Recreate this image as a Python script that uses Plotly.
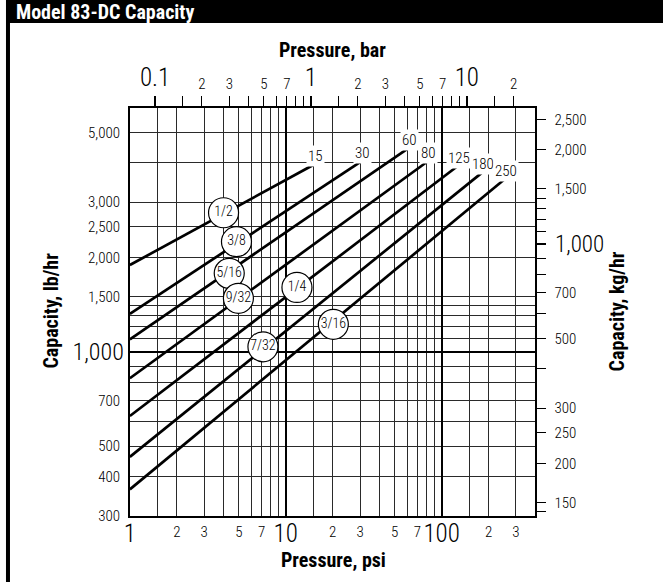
import math
import plotly.graph_objects as go

# ---------------- data ----------------
orifice_sizes = ["1/2", "3/8", "5/16", "9/32", "1/4", "7/32", "3/16"]
start_pressure_psi = [1, 1, 1, 1, 1, 1, 1]
max_pressure_psi = [15, 30, 60, 80, 125, 180, 250]
capacity_at_start_lbhr = [1890, 1320, 1095, 823, 624, 462, 364]
capacity_at_max_lbhr = [3940, 4020, 4430, 4020, 3890, 3710, 3530]
size_marker_psi = [3.99, 4.83, 4.34, 4.97, 11.8, 7.14, 20.2]
size_marker_lbhr = [2774, 2243, 1778, 1480, 1603, 1037, 1223]

psi_grid = [1.5, 2, 3, 4, 5, 6, 7, 8, 9, 15, 20, 30, 40, 50, 60, 70, 80, 90, 150, 200, 300]
psi_labels = ["", "2", "3", "", "5", "", "7", "", "", "", "2", "3", "", "5", "", "7", "", "", "", "2", "3"]
psi_major = [1, 10, 100]
psi_major_labels = ["1", "10", "100"]

bar_ticks = [0.15, 0.2, 0.3, 0.4, 0.5, 0.6, 0.7, 0.8, 0.9, 1.5, 2, 3, 4, 5, 6, 7, 8, 9, 15, 20]
bar_labels = ["", "2", "3", "", "5", "", "7", "", "", "", "2", "3", "", "5", "", "7", "", "", "", "2"]
bar_major = [0.1, 1, 10]
bar_major_labels = ["0.1", "1", "10"]

lb_grid = [300, 400, 500, 600, 700, 800, 900, 1100, 1200, 1300, 1400, 1500, 2000, 2500, 3000, 4000, 5000]
lb_labels = ["300", "400", "500", "", "700", "", "", "", "", "", "", "1,500", "2,000", "2,500", "3,000", "", "5,000"]
lb_major = [1000]
lb_major_labels = ["1,000"]

kg_ticks = [140, 150, 200, 250, 300, 400, 500, 600, 700, 800, 900, 1100, 1200, 1300, 1400, 1500, 2000, 2500]
kg_labels = ["", "150", "200", "250", "300", "", "500", "", "700", "", "", "", "", "", "", "1,500", "2,000", "2,500"]
kg_major = [1000]
kg_major_labels = ["1,000"]

PSI_RANGE = [1, 400]
LB_RANGE = [300, 6000]
PSI_PER_BAR = 14.5038
LB_PER_KG = 2.20462

# ---------------- styling ----------------
W = 663
H = 591                    # the page is photographed slightly squeezed vertically
VS = H / 582.0             # vertical factor: reference pixel rows -> figure pixel rows
NARROW = "Roboto Condensed, Liberation Sans Narrow, DejaVu Sans Condensed, Liberation Sans, sans-serif"
GRID = "#2a2a2a"
L, R, T, B = 125, 534.3, 107.7 * VS, 515.7 * VS
xdom = [L / W, R / W]
ydom = [(H - B) / H, (H - T) / H]


def font(size, color="black", weight=None):
    f = dict(family=NARROW, size=size, color=color)
    if weight is not None:
        f["weight"] = weight
    return f


lg = math.log10
psi_rng = [lg(PSI_RANGE[0]), lg(PSI_RANGE[1])]
bar_rng = [lg(PSI_RANGE[0] / PSI_PER_BAR), lg(PSI_RANGE[1] / PSI_PER_BAR)]
lb_rng = [lg(LB_RANGE[0]), lg(LB_RANGE[1])]
kg_rng = [lg(LB_RANGE[0] / LB_PER_KG), lg(LB_RANGE[1] / LB_PER_KG)]

fig = go.Figure()

for i, name in enumerate(orifice_sizes):
    fig.add_trace(go.Scatter(
        x=[start_pressure_psi[i], max_pressure_psi[i]],
        y=[capacity_at_start_lbhr[i], capacity_at_max_lbhr[i]],
        mode="lines", line=dict(color="black", width=2.7),
        name=name, hoverinfo="skip"))

fig.add_trace(go.Scatter(
    x=size_marker_psi, y=size_marker_lbhr, mode="markers+text",
    text=orifice_sizes, textposition="middle center",
    textfont=font(14, weight=300),
    marker=dict(size=30, color="white", line=dict(color="black", width=1.2)),
    hoverinfo="skip"))

# empty traces so that the secondary (bar / kg/hr) axes are drawn
for xa, ya in (("x2", "y2"), ("x3", "y3"), ("x4", "y4")):
    fig.add_trace(go.Scatter(x=[], y=[], xaxis=xa, yaxis=ya, hoverinfo="skip"))

annotations = []
for i, p in enumerate(max_pressure_psi):
    annotations.append(dict(
        x=lg(p), y=lg(capacity_at_max_lbhr[i]), xref="x", yref="y",
        text=str(p), showarrow=False, yshift=9, xshift=2,
        bgcolor="white", borderpad=1, font=font(15, weight=300)))


def title_ann(text, x, y, angle=0, color="black", size=20, xanchor="center"):
    return dict(text="<b>%s</b>" % text, x=x / W, y=(H - y * VS) / H, xref="paper", yref="paper",
                showarrow=False, textangle=angle, xanchor=xanchor, yanchor="middle",
                font=font(size, color))


annotations += [
    title_ann("Model 83-DC Capacity", 8, 12, color="white", xanchor="left"),
    title_ann("Pressure, bar", 329, 50),
    title_ann("Pressure, psi", 330, 560),
    title_ann("Capacity, lb/hr", 45, 311, angle=-90),
    title_ann("Capacity, kg/hr", 617, 311, angle=-90),
]

small_font = font(15, weight=300)
big_font = font(25, weight=300)

layout = dict(
    width=W, height=H, autosize=False,
    margin=dict(l=0, r=0, t=0, b=0),
    paper_bgcolor="white", plot_bgcolor="white",
    showlegend=False,
    xaxis=dict(type="log", range=psi_rng, domain=xdom, anchor="y",
               tickmode="array", tickvals=psi_grid, ticktext=psi_labels,
               ticks="", showgrid=True, gridcolor=GRID, gridwidth=1,
               showline=True, linecolor="black", linewidth=1.6, mirror=True,
               zeroline=False, tickfont=small_font, ticklabelstandoff=1),
    xaxis3=dict(type="log", range=psi_rng, overlaying="x", anchor="y", side="bottom",
                tickmode="array", tickvals=psi_major, ticktext=psi_major_labels,
                ticks="", showgrid=True, gridcolor="black", gridwidth=2.2,
                showline=False, zeroline=False, tickfont=big_font, ticklabelstandoff=0),
    xaxis2=dict(type="log", range=bar_rng, overlaying="x", anchor="y", side="top",
                tickmode="array", tickvals=bar_ticks, ticktext=bar_labels,
                ticks="outside", ticklen=11, tickwidth=1, tickcolor="black",
                showgrid=False, showline=False, zeroline=False,
                tickfont=small_font, ticklabelstandoff=1),
    xaxis4=dict(type="log", range=bar_rng, overlaying="x", anchor="y", side="top",
                tickmode="array", tickvals=bar_major, ticktext=bar_major_labels,
                ticks="outside", ticklen=11, tickwidth=1.6, tickcolor="black",
                showgrid=False, showline=False, zeroline=False,
                tickfont=big_font, ticklabelstandoff=0),
    yaxis=dict(type="log", range=lb_rng, domain=ydom, anchor="x",
               tickmode="array", tickvals=lb_grid, ticktext=lb_labels,
               ticks="", showgrid=True, gridcolor=GRID, gridwidth=1,
               showline=True, linecolor="black", linewidth=1.6, mirror=True,
               zeroline=False, tickfont=small_font, ticklabelstandoff=5),
    yaxis3=dict(type="log", range=lb_rng, overlaying="y", anchor="x", side="left",
                tickmode="array", tickvals=lb_major, ticktext=lb_major_labels,
                ticks="", showgrid=True, gridcolor="black", gridwidth=2.2,
                showline=False, zeroline=False,
                tickfont=font(24, weight=300), ticklabelstandoff=5),
    yaxis2=dict(type="log", range=kg_rng, overlaying="y", anchor="x", side="right",
                tickmode="array", tickvals=kg_ticks, ticktext=kg_labels,
                ticks="outside", ticklen=10, tickwidth=1, tickcolor="black",
                showgrid=False, showline=False, zeroline=False,
                tickfont=small_font, ticklabelstandoff=5),
    yaxis4=dict(type="log", range=kg_rng, overlaying="y", anchor="x", side="right",
                tickmode="array", tickvals=kg_major, ticktext=kg_major_labels,
                ticks="outside", ticklen=10, tickwidth=2, tickcolor="black",
                showgrid=False, showline=False, zeroline=False,
                tickfont=font(23, weight=300), ticklabelstandoff=4),
    annotations=annotations,
    shapes=[
        dict(type="rect", xref="paper", yref="paper", x0=0, x1=1, y0=(H - 23 * VS) / H, y1=1,
             fillcolor="black", line=dict(width=0), layer="below"),
        dict(type="line", xref="paper", yref="paper", x0=2 / W, x1=2 / W, y0=0, y1=1,
             line=dict(color="black", width=4)),
    ],
)
fig.update_layout(**layout)

page_fix = (
    "var s=document.documentElement.style;s.margin='0';s.padding='0';s.overflow='hidden';"
    "var b=document.body.style;b.margin='0';b.padding='0';b.overflow='hidden';"
    "var g=document.getElementById('{plot_id}');"
    "g.style.position='fixed';g.style.left='0px';g.style.top='0px';"
)
fig.write_html("out.html", post_script=page_fix, config={"displayModeBar": False})
